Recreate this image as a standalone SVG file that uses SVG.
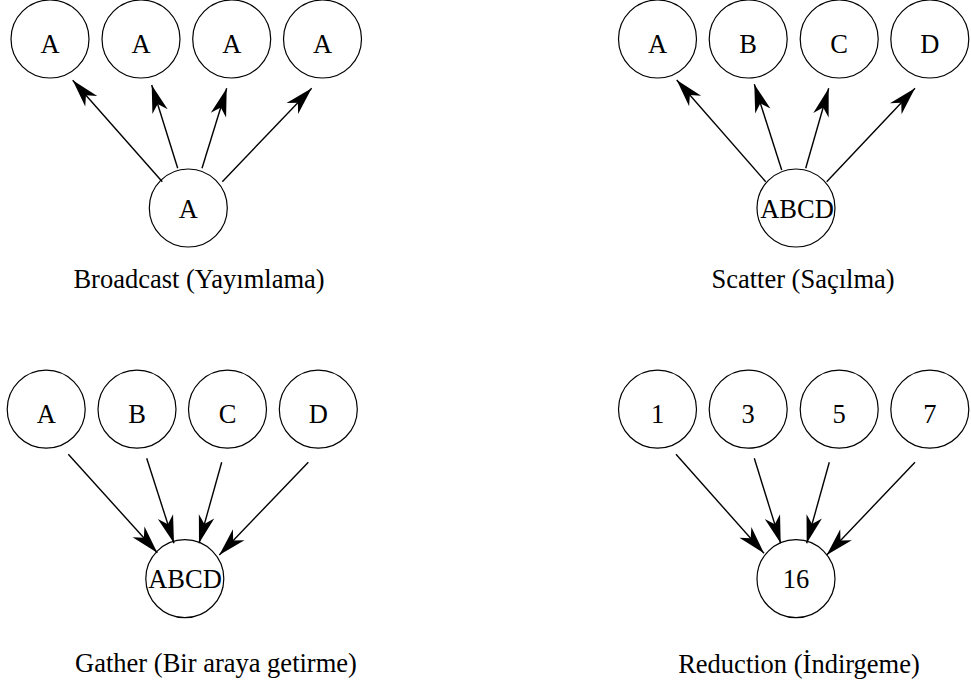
<svg xmlns="http://www.w3.org/2000/svg" width="971" height="688" viewBox="0 0 971 688">
  <style>
    .node circle { fill: #ffffff; stroke: #000000; stroke-width: 1.2; }
    text { font-family: "Liberation Serif", "Times New Roman", serif; font-size: 26.5px; fill: #000000; text-anchor: middle; }
    .edge { stroke: #000000; stroke-width: 1.4; fill: none; marker-end: url(#arrow); }
  </style>
  <defs>
    <marker id="arrow" markerUnits="userSpaceOnUse" viewBox="-30 -9 31 18" refX="0" refY="0" markerWidth="31" markerHeight="18" orient="auto" overflow="visible">
      <path d="M0,0 L-28,-8 L-20,0 L-28,8 Z" fill="#000000"/>
    </marker>
  </defs>

  <rect width="971" height="688" fill="#ffffff"/>

  <!-- Broadcast -->
  <g id="bc-a1" class="node"><circle cx="50" cy="39" r="39"/><text x="50" y="52.5">A</text></g>
  <g id="bc-a2" class="node"><circle cx="141" cy="39" r="39"/><text x="141" y="52.5">A</text></g>
  <g id="bc-a3" class="node"><circle cx="231.7" cy="39" r="39"/><text x="231.7" y="52.5">A</text></g>
  <g id="bc-a4" class="node"><circle cx="322.5" cy="39" r="39"/><text x="322.5" y="52.5">A</text></g>
  <g id="bc-root" class="node"><circle cx="188.3" cy="208" r="39"/><text x="188.3" y="218.3">A</text></g>
  <text id="bc-label" x="199" y="288">Broadcast (Yayımlama)</text>

  <!-- Scatter -->
  <g id="sc-a" class="node"><circle cx="657.5" cy="39" r="39"/><text x="657.5" y="52.5">A</text></g>
  <g id="sc-b" class="node"><circle cx="748.2" cy="39" r="39"/><text x="748.2" y="52.5">B</text></g>
  <g id="sc-c" class="node"><circle cx="839.2" cy="39" r="39"/><text x="839.2" y="52.5">C</text></g>
  <g id="sc-d" class="node"><circle cx="929.8" cy="39" r="39"/><text x="929.8" y="52.5">D</text></g>
  <g id="sc-root" class="node"><circle cx="796" cy="208" r="39"/><text x="797" y="218.3">ABCD</text></g>
  <text id="sc-label" x="803" y="288">Scatter (Saçılma)</text>

  <!-- Gather -->
  <g id="ga-a" class="node"><circle cx="46.2" cy="409.2" r="39"/><text x="46.2" y="423">A</text></g>
  <g id="ga-b" class="node"><circle cx="137" cy="409.2" r="39"/><text x="137" y="423">B</text></g>
  <g id="ga-c" class="node"><circle cx="227.5" cy="409.2" r="39"/><text x="227.5" y="423">C</text></g>
  <g id="ga-d" class="node"><circle cx="318.3" cy="409.2" r="39"/><text x="318.3" y="423">D</text></g>
  <g id="ga-root" class="node"><circle cx="184.8" cy="578.7" r="39"/><text x="185" y="588.3">ABCD</text></g>
  <text id="ga-label" x="216" y="672">Gather (Bir araya getirme)</text>

  <!-- Reduction -->
  <g id="re-1" class="node"><circle cx="657.5" cy="409.2" r="39"/><text x="657.5" y="423">1</text></g>
  <g id="re-3" class="node"><circle cx="748.2" cy="409.2" r="39"/><text x="748.2" y="423">3</text></g>
  <g id="re-5" class="node"><circle cx="839.2" cy="409.2" r="39"/><text x="839.2" y="423">5</text></g>
  <g id="re-7" class="node"><circle cx="929.8" cy="409.2" r="39"/><text x="929.8" y="423">7</text></g>
  <g id="re-root" class="node"><circle cx="796" cy="578.7" r="39"/><text x="796" y="588.3">16</text></g>
  <text id="re-label" x="799" y="673">Reduction (İndirgeme)</text>

  <!-- Connectors -->
  <g id="connectors">
    <line class="edge" x1="162.3" y1="181.7" x2="72.7" y2="80.3"/>
    <line class="edge" x1="177.7" y1="168.3" x2="151.7" y2="85"/>
    <line class="edge" x1="202" y1="168.3" x2="226.7" y2="88.3"/>
    <line class="edge" x1="222.3" y1="181.7" x2="311.7" y2="88.3"/>

    <line class="edge" x1="765.7" y1="181.7" x2="676.7" y2="80"/>
    <line class="edge" x1="781.7" y1="170" x2="754.3" y2="84.3"/>
    <line class="edge" x1="805.7" y1="168.3" x2="828.7" y2="88.3"/>
    <line class="edge" x1="826.7" y1="181.7" x2="915" y2="88.3"/>

    <line class="edge" x1="68.3" y1="454.3" x2="157.3" y2="552.7"/>
    <line class="edge" x1="146.7" y1="458.3" x2="174" y2="543.3"/>
    <line class="edge" x1="221.7" y1="462.3" x2="199" y2="543.3"/>
    <line class="edge" x1="308.3" y1="462.3" x2="219.3" y2="555"/>

    <line class="edge" x1="676" y1="454.3" x2="764" y2="553.3"/>
    <line class="edge" x1="754.3" y1="458.3" x2="780.7" y2="543.3"/>
    <line class="edge" x1="829.3" y1="462.3" x2="806.7" y2="543.3"/>
    <line class="edge" x1="915" y1="462.3" x2="826.7" y2="555"/>
  </g>
</svg>
